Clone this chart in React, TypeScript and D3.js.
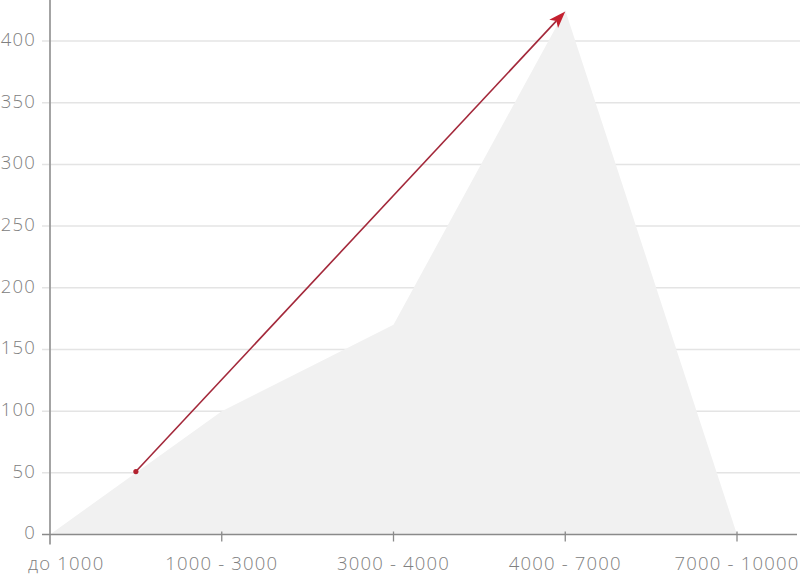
import React from "react";
import * as d3 from "d3";

const categories = ["до 1000", "1000 - 3000", "3000 - 4000", "4000 - 7000", "7000 - 10000"];
const values = [0, 100, 170, 425, 0];
const yTicks = [0, 50, 100, 150, 200, 250, 300, 350, 400];
const arrowFrom = { i: 0.5, v: 51 };
const arrowTo = { i: 3, v: 424 };

const W = 800;
const H = 574;

export default function App() {
  const x = d3.scaleLinear().domain([0, categories.length - 1]).range([50, 737]);
  const y = d3.scaleLinear().domain([0, 400]).range([534.5, 41]);

  const area = d3
    .area<number>()
    .x((_, i) => x(i))
    .y0(y(0))
    .y1((d) => y(d))
    .curve(d3.curveLinear);

  const x1 = x(arrowFrom.i), y1 = y(arrowFrom.v);
  const x2 = x(arrowTo.i), y2 = y(arrowTo.v);
  const ang = Math.atan2(y2 - y1, x2 - x1);
  const headLen = 17, headW = 6;
  const bx = x2 - headLen * Math.cos(ang), by = y2 - headLen * Math.sin(ang);
  const px = -Math.sin(ang), py = Math.cos(ang);
  const notch = 4;
  const nx = bx + notch * Math.cos(ang), ny = by + notch * Math.sin(ang);
  const head = `M${x2},${y2}L${bx + px * headW},${by + py * headW}L${nx},${ny}L${bx - px * headW},${by - py * headW}Z`;

  const font = "'Open Sans', 'Noto Sans', sans-serif";

  return (
    <svg width={W} height={H} style={{ position: "absolute", left: 0, top: 0, background: "#fff" }}>
      {yTicks.filter((t) => t > 0).map((t) => (
        <line key={t} x1={42} x2={W} y1={y(t)} y2={y(t)} stroke="#e4e4e4" strokeWidth={1.5} />
      ))}
      <path d={area(values) || ""} fill="#f1f1f1" />
      <line x1={50} x2={50} y1={0} y2={y(0) + 10} stroke="#9a9a9a" strokeWidth={1.8} />
      <line x1={42} x2={797} y1={y(0)} y2={y(0)} stroke="#8a8a8a" strokeWidth={1.5} />
      {categories.map((c, i) =>
        i === 0 ? null : (
          <line key={c} x1={x(i)} x2={x(i)} y1={y(0) - 3} y2={y(0) + 7} stroke="#8a8a8a" strokeWidth={1.3} />
        )
      )}
      {yTicks.map((t) => (
        <text
          key={t}
          x={36}
          y={y(t)}
          textAnchor="end"
          dominantBaseline="middle"
          fontFamily={font}
          fontWeight={300}
          fontSize={18.5}
          letterSpacing={1.2}
          fill="#808080"
        >
          {t}
        </text>
      ))}
      {categories.map((c, i) => (
        <text
          key={c}
          x={i === 0 ? x(i) - 22 : x(i)}
          y={570}
          textAnchor={i === 0 ? "start" : "middle"}
          fontFamily={font}
          fontWeight={300}
          fontSize={18.5}
          letterSpacing={1.2}
          fill="#808080"
        >
          {c}
        </text>
      ))}
      <line x1={x1} y1={y1} x2={nx} y2={ny} stroke="#a3283a" strokeWidth={1.6} />
      <path d={head} fill="#c4202f" />
      <circle cx={x1} cy={y1} r={2.6} fill="#b3222f" />
    </svg>
  );
}
